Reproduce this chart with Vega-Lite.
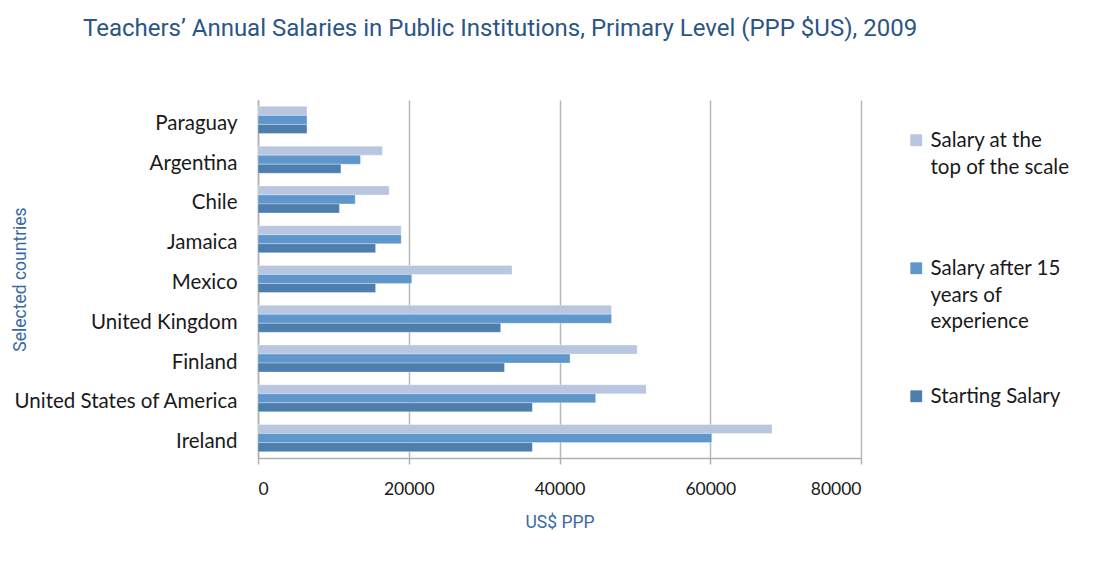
{
  "$schema": "https://vega.github.io/schema/vega-lite/v6.json",
  "autosize": {"type": "none"},
  "padding": {"left": 258, "top": 100, "right": 233, "bottom": 104},
  "width": 603,
  "height": 358,
  "background": "white",
  "title": {
    "text": "Teachers’ Annual Salaries in Public Institutions, Primary Level (PPP $US), 2009",
    "anchor": "start",
    "frame": "group",
    "dx": -175,
    "offset": 59,
    "font": "Roboto",
    "fontSize": 24,
    "fontWeight": "normal",
    "color": "#2B5586"
  },
  "data": {
    "values": [
      {"country": "Paraguay", "series": "Salary at the top of the scale", "value": 6500},
      {"country": "Paraguay", "series": "Salary after 15 years of experience", "value": 6500},
      {"country": "Paraguay", "series": "Starting Salary", "value": 6500},
      {"country": "Argentina", "series": "Salary at the top of the scale", "value": 16500},
      {"country": "Argentina", "series": "Salary after 15 years of experience", "value": 13600},
      {"country": "Argentina", "series": "Starting Salary", "value": 11000},
      {"country": "Chile", "series": "Salary at the top of the scale", "value": 17400},
      {"country": "Chile", "series": "Salary after 15 years of experience", "value": 12900},
      {"country": "Chile", "series": "Starting Salary", "value": 10800},
      {"country": "Jamaica", "series": "Salary at the top of the scale", "value": 19000},
      {"country": "Jamaica", "series": "Salary after 15 years of experience", "value": 19000},
      {"country": "Jamaica", "series": "Starting Salary", "value": 15600},
      {"country": "Mexico", "series": "Salary at the top of the scale", "value": 33700},
      {"country": "Mexico", "series": "Salary after 15 years of experience", "value": 20400},
      {"country": "Mexico", "series": "Starting Salary", "value": 15600},
      {"country": "United Kingdom", "series": "Salary at the top of the scale", "value": 46900},
      {"country": "United Kingdom", "series": "Salary after 15 years of experience", "value": 46900},
      {"country": "United Kingdom", "series": "Starting Salary", "value": 32200},
      {"country": "Finland", "series": "Salary at the top of the scale", "value": 50300},
      {"country": "Finland", "series": "Salary after 15 years of experience", "value": 41400},
      {"country": "Finland", "series": "Starting Salary", "value": 32700},
      {"country": "United States of America", "series": "Salary at the top of the scale", "value": 51500},
      {"country": "United States of America", "series": "Salary after 15 years of experience", "value": 44800},
      {"country": "United States of America", "series": "Starting Salary", "value": 36400},
      {"country": "Ireland", "series": "Salary at the top of the scale", "value": 68200},
      {"country": "Ireland", "series": "Salary after 15 years of experience", "value": 60200},
      {"country": "Ireland", "series": "Starting Salary", "value": 36400}
    ]
  },
  "mark": {"type": "bar", "stroke": "white", "strokeWidth": 0.5, "strokeOpacity": 0.6},
  "encoding": {
    "y": {
      "field": "country",
      "type": "nominal",
      "sort": ["Paraguay", "Argentina", "Chile", "Jamaica", "Mexico", "United Kingdom", "Finland", "United States of America", "Ireland"],
      "scale": {"paddingInner": 0.32, "paddingOuter": 0.16},
      "axis": {
        "title": "Selected countries",
        "titleFont": "Roboto",
        "titleFontSize": 17.5,
        "titleFontWeight": "normal",
        "titleColor": "#3A6AA2",
        "titleAngle": -90,
        "titleX": -238,
        "titleY": 179,
        "titleBaseline": "middle",
        "titleAlign": "center",
        "ticks": false,
        "labelPadding": 21,
        "labelOffset": 4,
        "labelFont": "Lato",
        "labelFontSize": 20.5,
        "labelColor": "#1a1a1a",
        "labelLimit": 300,
        "domainColor": "#b0b0b0",
        "domainWidth": 1.5,
        "grid": false
      }
    },
    "yOffset": {
      "field": "series",
      "type": "nominal",
      "sort": ["Salary at the top of the scale", "Salary after 15 years of experience", "Starting Salary"],
      "scale": {"paddingInner": 0, "paddingOuter": 0}
    },
    "x": {
      "field": "value",
      "type": "quantitative",
      "scale": {"domain": [0, 80000], "nice": false},
      "axis": {
        "title": "US$ PPP",
        "titleFont": "Roboto",
        "titleFontSize": 17.5,
        "titleFontWeight": "normal",
        "titleColor": "#3A6AA2",
        "titleY": 64,
        "titleBaseline": "middle",
        "values": [0, 20000, 40000, 60000, 80000],
        "format": "d",
        "labelFont": "Lato",
        "labelFontSize": 17.5,
        "labelColor": "#1a1a1a",
        "labelPadding": 16,
        "tickSize": 6,
        "tickColor": "#b0b0b0",
        "tickWidth": 1.5,
        "domainColor": "#b0b0b0",
        "domainWidth": 1.5,
        "grid": true,
        "gridColor": "#b8b8b8",
        "gridWidth": 1.5
      }
    },
    "color": {
      "field": "series",
      "type": "nominal",
      "scale": {
        "domain": ["Salary at the top of the scale", "Salary after 15 years of experience", "Starting Salary"],
        "range": ["#B8C6E0", "#5F96CB", "#4E7EAE"]
      },
      "legend": {
        "title": null,
        "orient": "none",
        "legendX": 648,
        "legendY": 30,
        "symbolType": "square",
        "symbolSize": 140,
        "symbolStrokeWidth": 0,
        "labelFont": "Lato",
        "labelFontSize": 20.5,
        "labelColor": "#1a1a1a",
        "labelLimit": 300,
        "labelBaseline": "top",
        "labelOffset": 4,
        "rowPadding": 53,
        "gridAlign": "all",
        "encoding": {"labels": {"dy": {"value": -9}, "lineHeight": {"value": 26.5}}},
        "labelExpr": "datum.label == 'Salary at the top of the scale' ? ['Salary at the', 'top of the scale'] : datum.label == 'Salary after 15 years of experience' ? ['Salary after 15', 'years of', 'experience'] : datum.label"
      }
    }
  },
  "config": {
    "view": {"stroke": null},
    "text": {"lineHeight": 26.5}
  }
}
